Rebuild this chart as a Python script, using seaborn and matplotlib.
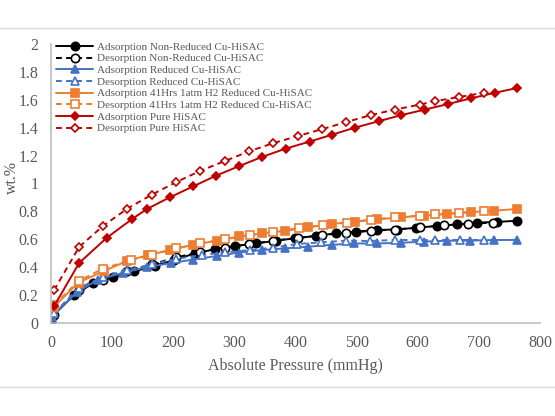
import numpy as np
import pandas as pd
import matplotlib
matplotlib.use('Agg')
import matplotlib.pyplot as plt
from matplotlib.lines import Line2D
import seaborn as sns

# values
ads_nonred_p = [0, 2, 38, 69, 102, 136, 170, 201, 236, 268, 301, 336, 368, 399, 434, 466, 499, 533, 566, 598, 631, 664, 697, 729, 762]
ads_nonred_w = [0.01, 0.05, 0.20, 0.285, 0.33, 0.37, 0.41, 0.45, 0.50, 0.528, 0.552, 0.57, 0.59, 0.607, 0.624, 0.643, 0.655, 0.667, 0.67, 0.683, 0.695, 0.707, 0.72, 0.724, 0.733]
des_nonred_p = [5, 45, 85, 125, 165, 205, 244, 284, 324, 364, 404, 444, 483, 523, 563, 603, 643, 683, 723]
des_nonred_w = [0.06, 0.24, 0.31, 0.37, 0.42, 0.47, 0.51, 0.54, 0.565, 0.59, 0.61, 0.63, 0.645, 0.66, 0.67, 0.685, 0.70, 0.71, 0.72]

ads_red_p = [2, 42, 77, 118, 157, 197, 233, 271, 307, 346, 383, 421, 459, 496, 534, 572, 610, 648, 686, 724, 762]
ads_red_w = [0.045, 0.22, 0.31, 0.36, 0.40, 0.43, 0.455, 0.48, 0.505, 0.523, 0.535, 0.547, 0.56, 0.57, 0.57, 0.575, 0.583, 0.59, 0.59, 0.595, 0.595]
des_red_p = [5, 45, 85, 125, 165, 205, 247, 285, 325, 364, 402, 442, 482, 522, 563, 603, 628, 669, 708]
des_red_w = [0.07, 0.25, 0.33, 0.38, 0.42, 0.46, 0.487, 0.506, 0.523, 0.54, 0.566, 0.578, 0.59, 0.588, 0.595, 0.595, 0.595, 0.595, 0.595]

ads_41_p = [5, 45, 87, 124, 159, 195, 232, 271, 308, 346, 383, 421, 459, 497, 534, 572, 610, 648, 687, 725, 762]
ads_41_w = [0.117, 0.29, 0.373, 0.444, 0.487, 0.523, 0.56, 0.59, 0.62, 0.643, 0.66, 0.686, 0.71, 0.726, 0.743, 0.757, 0.77, 0.78, 0.795, 0.805, 0.817]
des_41_p = [5, 45, 85, 131, 165, 205, 244, 285, 325, 364, 405, 445, 484, 523, 563, 603, 628, 668, 708]
des_41_w = [0.13, 0.30, 0.39, 0.45, 0.49, 0.535, 0.57, 0.60, 0.63, 0.654, 0.68, 0.70, 0.72, 0.74, 0.757, 0.77, 0.78, 0.79, 0.80]

ads_pure_p = [5, 46, 91, 132, 157, 194, 233, 270, 308, 345, 384, 423, 460, 497, 536, 573, 612, 650, 687, 726, 763]
ads_pure_w = [0.12, 0.43, 0.61, 0.743, 0.817, 0.90, 0.98, 1.056, 1.125, 1.19, 1.25, 1.30, 1.35, 1.40, 1.446, 1.49, 1.53, 1.57, 1.61, 1.65, 1.685]
des_pure_p = [5, 46, 85, 125, 165, 205, 244, 284, 324, 364, 404, 444, 483, 523, 563, 603, 628, 668, 708]
des_pure_w = [0.235, 0.545, 0.695, 0.82, 0.92, 1.01, 1.09, 1.16, 1.23, 1.29, 1.34, 1.39, 1.44, 1.49, 1.53, 1.565, 1.59, 1.62, 1.65]

labels = ["Adsorption Non-Reduced Cu-HiSAC", "Desorption Non-Reduced Cu-HiSAC",
          "Adsorption Reduced Cu-HiSAC", "Desorption Reduced Cu-HiSAC",
          "Adsorption 41Hrs 1atm H2 Reduced Cu-HiSAC", "Desorption 41Hrs 1atm H2 Reduced Cu-HiSAC",
          "Adsorption Pure HiSAC", "Desorption Pure HiSAC"]

sns.set_style('white')
plt.rcParams['font.family'] = ['Liberation Serif', 'DejaVu Serif']
txt = '#595959'

fig = plt.figure(figsize=(5.55, 4.16), dpi=100)
ax = fig.add_axes([0.0919, 0.2236, 0.881, 0.6707])

series = [
    (ads_nonred_p, ads_nonred_w, 'black', '-', 'o', True, 6),
    (des_nonred_p, des_nonred_w, 'black', '--', 'o', False, 6),
    (ads_red_p, ads_red_w, '#4472C4', '-', '^', True, 6),
    (des_red_p, des_red_w, '#4472C4', '--', '^', False, 6),
    (ads_41_p, ads_41_w, '#ED7D31', '-', 's', True, 6),
    (des_41_p, des_41_w, '#ED7D31', '--', 's', False, 6),
    (ads_pure_p, ads_pure_w, '#C00000', '-', 'D', True, 4.5),
    (des_pure_p, des_pure_w, '#C00000', '--', 'D', False, 4.5),
]

handles = []
for (p, w, c, ls, m, filled, ms), lab in zip(series, labels):
    df = pd.DataFrame({'p': p, 'w': w})
    fc = c if filled else 'white'
    kw = dict(color=c, linewidth=1.4, marker=m, markersize=ms,
              markerfacecolor=fc, markeredgecolor=c, markeredgewidth=1.2)
    if ls == '--':
        kw['dashes'] = (3, 2.2)
    sns.lineplot(data=df, x='p', y='w', ax=ax, legend=False, **kw)
    h = Line2D([], [], linestyle=ls, **{k: v for k, v in kw.items() if k != 'dashes'})
    if ls == '--':
        h.set_dashes((3, 2.2))
    handles.append(h)

ax.set_xlim(0, 800)
ax.set_ylim(0, 2)
ax.set_xticks(np.arange(0, 801, 100))
ax.set_yticks(np.arange(0, 2.01, 0.2))
ax.set_yticklabels(['0', '0.2', '0.4', '0.6', '0.8', '1', '1.2', '1.4', '1.6', '1.8', '2'])
ax.tick_params(axis='y', length=0, labelsize=11.5, colors=txt, pad=9)
ax.tick_params(axis='x', length=0, labelsize=11.5, colors=txt, pad=9)
ax.set_xlabel('Absolute Pressure (mmHg)', fontsize=11.5, color=txt, labelpad=5)
ax.set_ylabel('wt.%', fontsize=11.5, color=txt)
ax.yaxis.set_label_coords(-0.064, 0.52)
for s in ['top', 'right']:
    ax.spines[s].set_visible(False)
for s in ['left', 'bottom']:
    ax.spines[s].set_color('#BFBFBF')
    ax.spines[s].set_linewidth(1.2)

leg = ax.legend(handles, labels, loc='upper left', bbox_to_anchor=(-0.005, 1.035),
                frameon=False, fontsize=8.0, handlelength=3.3, handletextpad=0.4,
                labelspacing=0.17, borderaxespad=0.3)
for t in leg.get_texts():
    t.set_color(txt)

fig.add_artist(Line2D([0, 1], [1 - 28 / 416, 1 - 28 / 416], transform=fig.transFigure, color='#D9D9D9', linewidth=1))
fig.add_artist(Line2D([0, 1], [1 - 387 / 416, 1 - 387 / 416], transform=fig.transFigure, color='#D9D9D9', linewidth=1))

fig.savefig('out.png', dpi=100)
